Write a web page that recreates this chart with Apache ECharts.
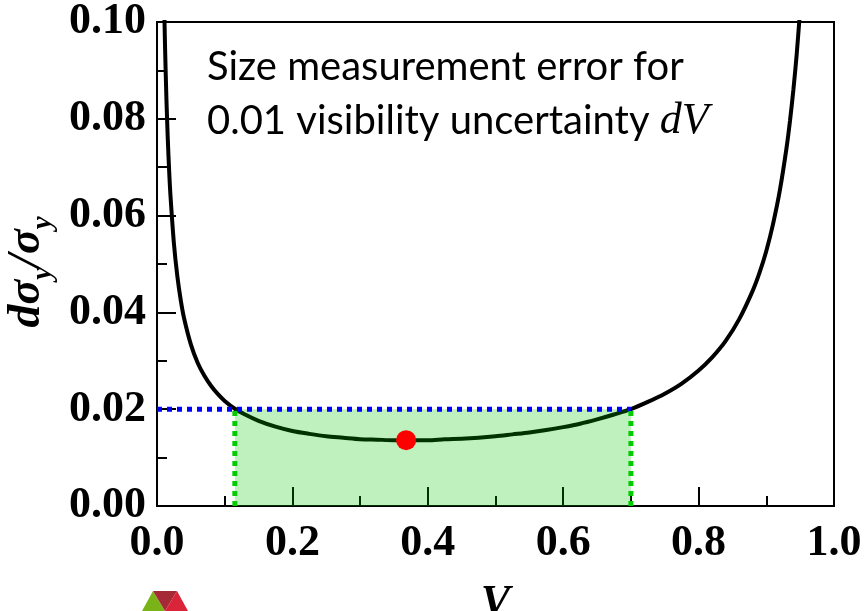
<!DOCTYPE html>
<html>
<head>
<meta charset="utf-8">
<script src="https://cdn.jsdelivr.net/npm/echarts@6/dist/echarts.min.js"></script>
<style>html,body{margin:0;padding:0;background:#fff;}#c{width:866px;height:611px;}</style>
</head>
<body>
<div id="c"></div>
<script>
// Visibility V (x) and relative size error dσy/σy (y)
const curveV = [0.011,0.012,0.014,0.016,0.018,0.02,0.025,0.03,0.035,0.04,0.05,0.06,0.07,0.08,0.09,0.10,0.115,0.13,0.15,0.175,0.20,0.225,0.25,0.275,0.30,0.325,0.35,0.368,0.40,0.425,0.45,0.475,0.50,0.525,0.55,0.575,0.60,0.625,0.65,0.675,0.70,0.725,0.75,0.775,0.80,0.82,0.84,0.86,0.88,0.89,0.90,0.91,0.92,0.93,0.935,0.94,0.945,0.95];
const curveErr = [0.1008,0.0942,0.0837,0.0756,0.0691,0.0639,0.0542,0.0475,0.0426,0.0388,0.0334,0.0296,0.0269,0.0248,0.0231,0.0217,0.0201,0.0189,0.0176,0.0164,0.0155,0.0149,0.0144,0.0141,0.0138,0.0137,0.0136,0.0136,0.0136,0.0138,0.0139,0.0141,0.0144,0.0148,0.0152,0.0157,0.0163,0.0170,0.0179,0.0189,0.0200,0.0215,0.0232,0.0253,0.0280,0.0307,0.0341,0.0386,0.0445,0.0482,0.0527,0.0583,0.0652,0.0741,0.0796,0.0860,0.0935,0.1026];
// acceptable range (green band) and threshold
const rangeV = [0.115, 0.70];
const thresholdErr = [0.02];
// optimum point
const optimumV = [0.368];
const optimumErr = [0.0136];
// tick labels
const xTickLabels = ['0.0','0.2','0.4','0.6','0.8','1.0'];
const yTickLabels = ['0.00','0.02','0.04','0.06','0.08','0.10'];

const curve = curveV.map((v, i) => [v, curveErr[i]]);

const chart = echarts.init(document.getElementById('c'), null, {renderer: 'canvas'});
const tickFont = {fontFamily: '"Liberation Serif", "Times New Roman", serif', fontWeight: 'bold', fontSize: 44, color: '#000'};
const serifBI = '"Liberation Serif", serif';

chart.setOption({
  animation: false,
  backgroundColor: '#fff',
  grid: {left: 157, top: 22, right: 32, bottom: 105, containLabel: false, outerBoundsMode: 'none',
         show: true, borderColor: '#000', borderWidth: 2, backgroundColor: 'transparent'},
  xAxis: {
    type: 'value', min: 0, max: 1, interval: 0.2,
    name: 'V', nameLocation: 'middle', nameGap: 76,
    nameTextStyle: {fontFamily: serifBI, fontWeight: 'bold', fontStyle: 'italic', fontSize: 44, color: '#000'},
    axisLine: {lineStyle: {color: '#000', width: 2}},
    axisTick: {inside: true, length: 19, lineStyle: {color: '#000', width: 2}},
    minorTick: {show: true, splitNumber: 2, length: 10, lineStyle: {color: '#000', width: 2}},
    splitLine: {show: false}, minorSplitLine: {show: false},
    axisLabel: Object.assign({margin: 16, formatter: (v) => xTickLabels[Math.round(v / 0.2)]}, tickFont)
  },
  yAxis: {
    type: 'value', min: 0, max: 0.1, interval: 0.02,
    name: '{a|dσ}{b|y}{a|/σ}{b|y}', nameLocation: 'middle', nameGap: 100, nameRotate: 90,
    nameTextStyle: {
      padding: [0, 16, 0, 0],
      rich: {
        a: {fontFamily: serifBI, fontWeight: 'bold', fontStyle: 'italic', fontSize: 46, color: '#000', lineHeight: 46, verticalAlign: 'top'},
        b: {fontFamily: serifBI, fontWeight: 'bold', fontStyle: 'italic', fontSize: 29, color: '#000', lineHeight: 29, padding: [25, 0, 0, 0], verticalAlign: 'top'}
      }
    },
    axisLine: {lineStyle: {color: '#000', width: 2}},
    axisTick: {inside: true, length: 19, lineStyle: {color: '#000', width: 2}},
    minorTick: {show: true, splitNumber: 2, length: 10, lineStyle: {color: '#000', width: 2}},
    splitLine: {show: false}, minorSplitLine: {show: false},
    axisLabel: Object.assign({margin: 11, formatter: (v) => yTickLabels[Math.round(v / 0.02)]}, tickFont)
  },
  series: [
    {type: 'line', data: curve, symbol: 'none', smooth: 0.3, clip: true, lineStyle: {color: '#000', width: 4}, z: 2},
    {type: 'line', data: [[rangeV[0], thresholdErr[0]], [rangeV[1], thresholdErr[0]]], symbol: 'none', lineStyle: {width: 0}, areaStyle: {color: 'rgba(0,200,0,0.25)', opacity: 1}, z: 3, silent: true},
    {type: 'line', data: [[0, thresholdErr[0]], [rangeV[1], thresholdErr[0]]], symbol: 'none', lineStyle: {color: '#0000ff', width: 5, type: [5, 5]}, z: 4},
    {type: 'line', data: [[rangeV[0], 0], [rangeV[0], thresholdErr[0]]], symbol: 'none', lineStyle: {color: '#00cc00', width: 5, type: [5, 5]}, z: 4},
    {type: 'line', data: [[rangeV[1], 0], [rangeV[1], thresholdErr[0]]], symbol: 'none', lineStyle: {color: '#00cc00', width: 5, type: [5, 5]}, z: 4},
    {type: 'scatter', data: optimumV.map((v, i) => [v, optimumErr[i]]), symbol: 'circle', symbolSize: 20, itemStyle: {color: '#ff0000', opacity: 1}, z: 5}
  ],
  graphic: [
    {type: 'text', left: 207, top: 47, z: 10, style: {text: 'Size measurement error for', font: '40px Lato', fill: '#000'}},
    {type: 'text', left: 207, top: 99, z: 10, style: {
      text: '{n|0.01 visibility uncertainty }{i|dV}',
      rich: {
        n: {fontFamily: 'Lato', fontSize: 40, fill: '#000'},
        i: {fontFamily: serifBI, fontStyle: 'italic', fontSize: 44, fill: '#000'}
      }
    }},
    {type: 'polygon', z: 10, shape: {points: [[142, 611], [153, 591], [165, 611]]}, style: {fill: '#7ab317'}},
    {type: 'polygon', z: 10, shape: {points: [[153, 591], [177, 591], [165, 611]]}, style: {fill: '#a52a35'}},
    {type: 'polygon', z: 10, shape: {points: [[177, 591], [188, 611], [165, 611]]}, style: {fill: '#d9243a'}}
  ]
});
</script>
</body>
</html>
